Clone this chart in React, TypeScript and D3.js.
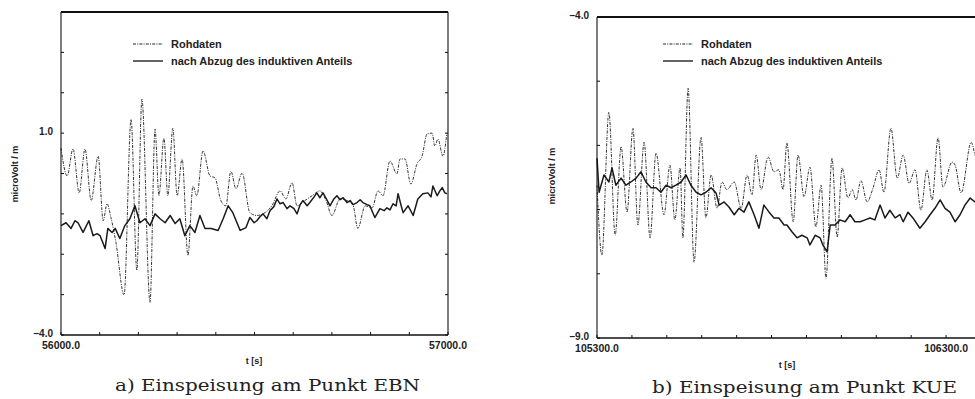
import React from "react";
import * as d3 from "d3";

// panel a) Einspeisung am Punkt EBN
const rawTimeA = [56000, 56016, 56031, 56047, 56062, 56078, 56096, 56109, 56119, 56129, 56142, 56163, 56181, 56196, 56209, 56230, 56243, 56253, 56266, 56276, 56289, 56300, 56313, 56328, 56341, 56351, 56367, 56385, 56398, 56413, 56426, 56439, 56452, 56468, 56488, 56506, 56527, 56545, 56566, 56581, 56597, 56610, 56630, 56649, 56669, 56685, 56700, 56721, 56739, 56755, 56767, 56786, 56804, 56819, 56832, 56850, 56868, 56876, 56889, 56904, 56920, 56933, 56946, 56959, 56966, 56974, 56987, 56997];
const rawValA = [0.63, -0.06, 0.61, -0.48, 0.61, -0.67, 0.43, -1.17, -0.75, -1.09, -1.71, -3.01, 1.34, -2.4, 1.84, -3.19, 1.1, -0.55, 0.88, -0.55, 1.12, -0.55, 0.36, -2.03, -0.31, -0.55, 0.56, -0.06, -0.11, -0.67, -0.8, 0.06, -0.38, 0.01, -0.97, -1.04, -0.97, -0.8, -0.43, -0.63, -0.23, -0.8, -0.67, -0.55, -0.43, -0.67, -1.04, -0.63, -0.67, -0.8, -1.36, -0.8, -0.85, -0.43, -0.55, 0.31, -0.01, 0.36, 0.36, -0.26, 0.24, 0.43, 0.98, 1.0, 0.68, 0.85, 0.43, 1.0];
const netTimeA = [56000, 56013, 56026, 56036, 56044, 56057, 56072, 56083, 56093, 56101, 56114, 56121, 56132, 56140, 56152, 56165, 56178, 56191, 56204, 56217, 56230, 56243, 56256, 56269, 56282, 56295, 56307, 56320, 56333, 56346, 56359, 56372, 56388, 56406, 56419, 56432, 56444, 56463, 56478, 56488, 56499, 56506, 56514, 56522, 56532, 56540, 56550, 56558, 56566, 56574, 56584, 56592, 56602, 56610, 56618, 56625, 56636, 56643, 56654, 56661, 56669, 56677, 56687, 56695, 56705, 56713, 56721, 56729, 56739, 56747, 56755, 56765, 56773, 56780, 56791, 56798, 56811, 56824, 56835, 56842, 56850, 56858, 56866, 56871, 56879, 56884, 56897, 56910, 56922, 56935, 56948, 56956, 56961, 56972, 56979, 56985, 56992, 56997];
const netValA = [-1.29, -1.22, -1.36, -1.17, -1.22, -1.46, -1.17, -1.54, -1.49, -1.54, -1.86, -1.36, -1.46, -1.36, -1.61, -1.29, -1.12, -0.8, -1.22, -1.12, -1.29, -1.0, -1.12, -1.22, -1.04, -1.24, -1.12, -1.54, -1.29, -1.46, -1.04, -1.36, -1.36, -1.41, -1.12, -0.8, -0.97, -1.41, -1.34, -1.09, -1.22, -1.17, -1.07, -1.0, -1.12, -0.92, -0.82, -0.63, -0.75, -0.72, -0.87, -0.8, -0.87, -1.0, -0.77, -0.67, -0.8, -0.72, -0.58, -0.48, -0.6, -0.48, -0.65, -0.8, -0.63, -0.55, -0.65, -0.6, -0.72, -0.67, -0.77, -0.72, -0.65, -0.72, -0.77, -0.8, -1.09, -0.87, -0.92, -0.85, -0.9, -0.75, -0.8, -0.5, -0.8, -0.97, -0.8, -1.04, -0.63, -0.5, -0.48, -0.58, -0.31, -0.55, -0.43, -0.35, -0.48, -0.5];

// panel b) Einspeisung am Punkt KUE
const rawTimeB = [105300, 105314, 105334, 105352, 105369, 105386, 105403, 105417, 105435, 105452, 105469, 105492, 105509, 105523, 105538, 105546, 105561, 105578, 105598, 105612, 105627, 105644, 105658, 105672, 105693, 105713, 105730, 105744, 105756, 105770, 105790, 105807, 105821, 105833, 105844, 105862, 105876, 105893, 105910, 105927, 105942, 105956, 105973, 105988, 106002, 106019, 106031, 106042, 106056, 106074, 106091, 106108, 106122, 106142, 106160, 106177, 106194, 106211, 106228, 106245, 106260, 106277, 106291, 106317, 106326, 106343, 106372, 106383, 106400];
const rawValB = [-6.62, -7.71, -5.48, -7.4, -6.02, -7.04, -5.73, -7.24, -5.95, -7.44, -6.12, -7.08, -6.31, -7.16, -6.35, -7.44, -5.11, -7.82, -5.87, -7.13, -6.46, -6.98, -6.57, -6.69, -6.57, -6.98, -6.46, -6.77, -6.15, -6.69, -6.18, -6.41, -6.38, -6.69, -5.96, -7.19, -6.15, -6.8, -6.34, -7.27, -6.62, -8.07, -6.2, -7.43, -6.35, -6.82, -6.69, -6.85, -6.55, -6.88, -6.66, -6.38, -6.73, -5.73, -6.51, -6.15, -6.59, -6.38, -7.01, -6.38, -6.85, -5.88, -6.65, -6.26, -6.31, -6.74, -5.95, -6.15, -6.31];
const netTimeB = [105300, 105306, 105320, 105334, 105343, 105354, 105369, 105383, 105397, 105412, 105426, 105440, 105455, 105469, 105483, 105498, 105512, 105526, 105541, 105555, 105569, 105584, 105598, 105612, 105627, 105641, 105650, 105664, 105678, 105693, 105707, 105721, 105735, 105750, 105764, 105778, 105793, 105807, 105821, 105836, 105844, 105859, 105873, 105887, 105902, 105910, 105925, 105939, 105947, 105959, 105968, 105982, 105996, 106011, 106025, 106039, 106054, 106068, 106082, 106096, 106111, 106125, 106139, 106154, 106168, 106177, 106191, 106205, 106225, 106240, 106254, 106268, 106283, 106297, 106311, 106326, 106340, 106354, 106369, 106383, 106400];
const netValB = [-6.2, -6.73, -6.46, -6.57, -6.35, -6.62, -6.51, -6.62, -6.57, -6.51, -6.41, -6.57, -6.66, -6.66, -6.73, -6.62, -6.66, -6.62, -6.57, -6.46, -6.62, -6.73, -6.77, -6.73, -6.66, -6.74, -6.93, -6.88, -6.96, -7.08, -6.98, -7.04, -6.88, -7.08, -7.29, -6.93, -7.04, -7.13, -7.13, -7.24, -7.24, -7.35, -7.44, -7.4, -7.44, -7.55, -7.4, -7.44, -7.55, -7.66, -7.24, -7.24, -7.16, -7.19, -7.08, -7.19, -7.19, -7.16, -7.13, -7.16, -6.93, -7.13, -7.01, -7.13, -7.08, -7.19, -7.04, -7.13, -7.29, -7.19, -7.08, -6.98, -6.85, -6.98, -7.04, -7.19, -7.08, -6.93, -6.82, -6.88, -6.79];

const legendLabels = ["Rohdaten", "nach Abzug des induktiven Anteils"];
const yLabel = "microVolt / m";
const xLabel = "t [s]";

const Panel = (props) => {
  const { left, right, top, bottom, xDomain, yDomain, xLabels, yLabels, xTickStep } = props;
  const x = d3.scaleLinear().domain(xDomain).range([left, right]);
  const y = d3.scaleLinear().domain(yDomain).range([bottom, top]);
  const curve = d3.line().x((d) => x(d[0])).y((d) => y(d[1]));
  const raw = props.rawT.map((t, i) => [t, props.rawV[i]]);
  const net = props.netT.map((t, i) => [t, props.netV[i]]);
  const xTicks = d3.range(xDomain[0], xDomain[1] + 1, xTickStep);
  const yTicks = d3.range(yDomain[0], yDomain[1] + 0.01, 1);
  const font = "'Liberation Sans', Arial, sans-serif";

  return (
    <g>
      <path d={curve.curve(d3.curveMonotoneX)(raw)} fill="none" stroke="#333" strokeWidth={1} strokeDasharray="3 1.2 1 1.2" />
      <path d={curve.curve(d3.curveLinear)(net)} fill="none" stroke="#1a1a1a" strokeWidth={1.5} strokeLinejoin="round" />
      {/* frame */}
      <line x1={left} x2={right} y1={top} y2={top} stroke="#111" strokeWidth={2} />
      <line x1={left} x2={right} y1={bottom} y2={bottom} stroke="#111" strokeWidth={1.6} />
      <line x1={left} x2={left} y1={top} y2={bottom} stroke="#111" strokeWidth={1.1} />
      <line x1={right} x2={right} y1={top} y2={bottom} stroke="#111" strokeWidth={1.1} />
      {yTicks.map((v) => (
        <g key={"y" + v}>
          <line x1={left} x2={left + 3} y1={y(v)} y2={y(v)} stroke="#111" />
          <line x1={right - 3} x2={right} y1={y(v)} y2={y(v)} stroke="#111" />
        </g>
      ))}
      {xTicks.map((t) => (
        <line key={"x" + t} x1={x(t)} x2={x(t)} y1={bottom} y2={bottom - 3} stroke="#111" />
      ))}
      {yLabels.map((v) => (
        <text key={"yl" + v} x={left - 8} y={y(v) + 2} textAnchor="end" fontFamily={font} fontWeight="bold" fontSize={10} fill="#222">
          {v.toFixed(1).replace("-", "\u2013")}
        </text>
      ))}
      {xLabels.map((t) => (
        <text key={"xl" + t} x={x(t)} y={bottom + 14} textAnchor="middle" fontFamily={font} fontWeight="bold" fontSize={10.5} fill="#222">
          {t.toFixed(1)}
        </text>
      ))}
      <text x={props.xLabelX} y={props.xLabelY} textAnchor="middle" fontFamily={font} fontWeight="bold" fontSize={9} fill="#222">
        {xLabel}
      </text>
      <text transform={`translate(${props.yLabelX},${props.yLabelY}) rotate(-90)`} textAnchor="middle" fontFamily={font} fontWeight="bold" fontSize={9} fill="#222">
        {yLabel}
      </text>
      {/* legend */}
      {legendLabels.map((label, i) => (
        <g key={label}>
          <line x1={props.legendX} x2={props.legendX + 30} y1={44 + i * 17} y2={44 + i * 17} stroke="#222" strokeWidth={i ? 1.4 : 1} strokeDasharray={i ? null : "3 1.2 1 1.2"} />
          <text x={props.legendX + 38} y={44 + i * 17} dy="0.35em" fontFamily={font} fontWeight="bold" fontSize={11} fill="#222">
            {label}
          </text>
        </g>
      ))}
      <text x={props.captionX} y={props.captionY} fontFamily="'DejaVu Serif', serif" fontSize={17} fill="#222" textLength={305} lengthAdjust="spacingAndGlyphs">
        {props.caption}
      </text>
    </g>
  );
};

const App = () => {
  return (
    <svg width={975} height={399} style={{ position: "absolute", left: 0, top: 0, background: "#fff" }}>
      <defs>
        <clipPath id="view">
          <rect x={0} y={0} width={975} height={399} />
        </clipPath>
      </defs>
      <Panel
        left={61} right={448} top={12} bottom={335}
        xDomain={[56000, 57000]} yDomain={[-4, 4]} xTickStep={100}
        xLabels={[56000, 57000]} yLabels={[-4, 1]}
        rawT={rawTimeA} rawV={rawValA} netT={netTimeA} netV={netValA}
        xLabelX={254} xLabelY={364} yLabelX={18} yLabelY={174}
        legendX={133} captionX={115} captionY={391}
        caption="a) Einspeisung am Punkt EBN"
      />
      <g clipPath="url(#view)">
        <Panel
          left={597} right={981} top={17} bottom={338}
          xDomain={[105300, 106400]} yDomain={[-9, -4]} xTickStep={100}
          xLabels={[105300, 106300]} yLabels={[-9, -4]}
          rawT={rawTimeB} rawV={rawValB} netT={netTimeB} netV={netValB}
          xLabelX={787} xLabelY={368} yLabelX={555} yLabelY={176}
          legendX={663} captionX={652} captionY={393}
          caption="b) Einspeisung am Punkt KUE"
        />
      </g>
    </svg>
  );
};

export default App;
